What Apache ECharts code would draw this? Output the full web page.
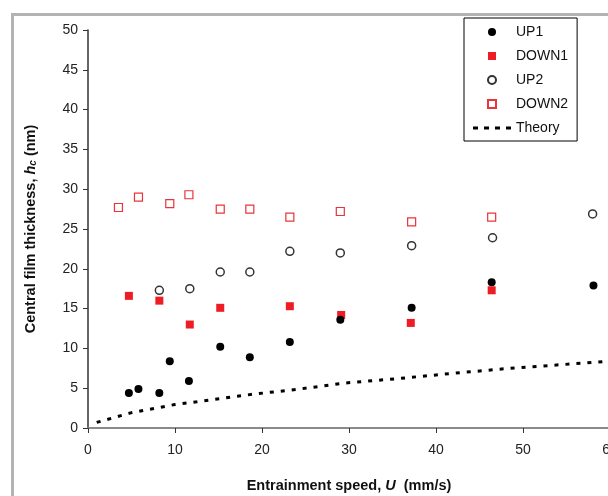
<!DOCTYPE html>
<html>
<head>
<meta charset="utf-8">
<script src="https://cdn.jsdelivr.net/npm/echarts@6/dist/echarts.min.js"></script>
<style>
html,body{margin:0;padding:0;background:#fff;}
#chart{width:608px;height:496px;}
</style>
</head>
<body>
<div id="chart"></div>
<script>
// ---- data ----
var up1X   = [4.7, 5.8, 8.2, 9.4, 11.6, 15.2, 18.6, 23.2, 29.0, 37.2, 46.4, 58.1];
var up1Y   = [4.4, 4.9, 4.4, 8.4, 5.9, 10.2, 8.9, 10.8, 13.6, 15.1, 18.3, 17.9];
var down1X = [4.7, 8.2, 11.7, 15.2, 23.2, 29.1, 37.1, 46.4];
var down1Y = [16.6, 16.0, 13.0, 15.1, 15.3, 14.2, 13.2, 17.3];
var up2X   = [8.2, 11.7, 15.2, 18.6, 23.2, 29.0, 37.2, 46.5, 58.0];
var up2Y   = [17.3, 17.5, 19.6, 19.6, 22.2, 22.0, 22.9, 23.9, 26.9];
var down2X = [3.5, 5.8, 9.4, 11.6, 15.2, 18.6, 23.2, 29.0, 37.2, 46.4];
var down2Y = [27.7, 29.0, 28.2, 29.3, 27.5, 27.5, 26.5, 27.2, 25.9, 26.5];
var theoryX = [1.0, 4.9, 10.0, 12.5, 15.2, 19.0, 24.0, 29.5, 35.6, 40.8, 43.3, 48.5, 59.5];
var theoryY = [0.7, 1.9, 2.95, 3.3, 3.7, 4.25, 4.85, 5.65, 6.2, 6.75, 7.0, 7.5, 8.35];
var seriesNames = ['UP1', 'DOWN1', 'UP2', 'DOWN2', 'Theory'];

function pairs(xs, ys) { return xs.map(function (x, i) { return [x, ys[i]]; }); }

var FONT = 'Liberation Sans, Arial, sans-serif';
var SQUARE = 'path://M0 0L10 0L10 10L0 10Z';
var DASHES = 'path://M0 0H5V3H0Z M11 0H16V3H11Z M22 0H27V3H22Z M33 0H38V3H33Z';
var legendIcons = ['circle', SQUARE, 'circle', SQUARE, DASHES];
var NAME_FS = 14.5;

var chart = echarts.init(document.getElementById('chart'), null, {renderer: 'canvas'});
chart.setOption({
  animation: false,
  backgroundColor: '#ffffff',
  graphic: [
    {type: 'rect', shape: {x: 11, y: 13, width: 600, height: 3}, style: {fill: '#b3b3b3'}, z: 0},
    {type: 'rect', shape: {x: 11, y: 13, width: 3, height: 490}, style: {fill: '#b3b3b3'}, z: 0}
  ],
  grid: {left: 88, top: 30, width: 522, height: 398, containLabel: false, outerBoundsMode: 'none'},
  legend: {
    orient: 'vertical',
    left: 464, top: 18,
    padding: [7, 9, 6, 9],
    borderColor: '#000', borderWidth: 1,
    backgroundColor: '#fff',
    itemWidth: 38, itemHeight: 8, itemGap: 10,
    symbolKeepAspect: true,
    textStyle: {fontFamily: FONT, fontSize: 14, color: '#111'},
    data: seriesNames.map(function (n, i) { return {name: n, icon: legendIcons[i]}; })
  },
  xAxis: {
    type: 'value', min: 0, max: 60, interval: 10,
    name: '{b|Entrainment speed, }{bi|U}{b|  (mm/s)}',
    nameLocation: 'middle', nameGap: 50,
    nameTextStyle: {
      rich: {
        b: {fontFamily: FONT, fontSize: NAME_FS, fontWeight: 'bold', color: '#111'},
        bi: {fontFamily: FONT, fontSize: NAME_FS, fontWeight: 'bold', fontStyle: 'italic', color: '#111'}
      }
    },
    splitLine: {show: false},
    axisLine: {lineStyle: {color: '#8a8a8a', width: 2}},
    axisTick: {inside: false, length: 5, lineStyle: {color: '#333', width: 1}},
    axisLabel: {fontFamily: FONT, fontSize: 14, color: '#222', margin: 15}
  },
  yAxis: {
    type: 'value', min: 0, max: 50, interval: 5,
    name: '{b|Central film thickness, }{bi|h}{sub|c}{b| (nm)}',
    nameLocation: 'middle', nameGap: 50, nameRotate: 90,
    nameTextStyle: {
      rich: {
        b: {fontFamily: FONT, fontSize: NAME_FS, fontWeight: 'bold', color: '#111'},
        bi: {fontFamily: FONT, fontSize: NAME_FS, fontWeight: 'bold', fontStyle: 'italic', color: '#111'},
        sub: {fontFamily: FONT, fontSize: 10, fontWeight: 'bold', fontStyle: 'italic', color: '#111', verticalAlign: 'bottom', padding: [4, 0, 0, 0]}
      }
    },
    splitLine: {show: false},
    axisLine: {show: true, lineStyle: {color: '#333', width: 1.5}},
    axisTick: {show: true, length: 5, lineStyle: {color: '#333', width: 1}},
    axisLabel: {fontFamily: FONT, fontSize: 14, color: '#222', margin: 10}
  },
  series: [
    {
      name: 'UP1', type: 'scatter', symbol: 'circle', symbolSize: 8,
      itemStyle: {color: '#000', opacity: 1},
      data: pairs(up1X, up1Y), z: 5
    },
    {
      name: 'DOWN1', type: 'scatter', symbol: 'rect', symbolSize: 8,
      itemStyle: {color: '#ee1c25', opacity: 1},
      data: pairs(down1X, down1Y), z: 4
    },
    {
      name: 'UP2', type: 'scatter', symbol: 'circle', symbolSize: 8,
      itemStyle: {color: '#fff', borderColor: '#333', borderWidth: 1.5, opacity: 1},
      data: pairs(up2X, up2Y), z: 3
    },
    {
      name: 'DOWN2', type: 'scatter', symbol: 'rect', symbolSize: 8,
      itemStyle: {color: '#fff', borderColor: '#e8343a', borderWidth: 1.2, opacity: 1},
      data: pairs(down2X, down2Y), z: 3
    },
    {
      name: 'Theory', type: 'line', symbol: 'none', showSymbol: false,
      lineStyle: {color: '#000', width: 3, type: [4, 7]},
      itemStyle: {color: '#000'},
      data: pairs(theoryX, theoryY), z: 2
    }
  ]
});
</script>
</body>
</html>
